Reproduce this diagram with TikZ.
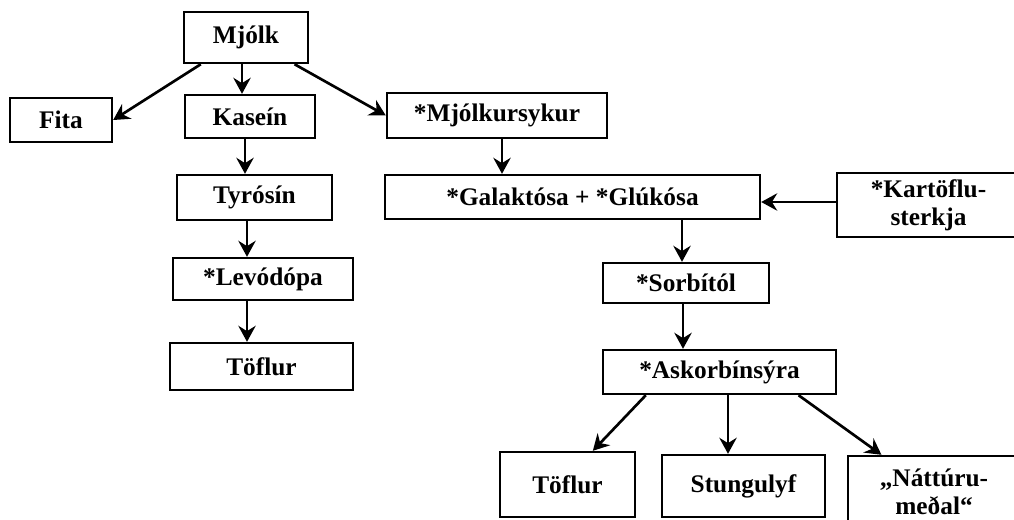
\documentclass[tikz,border=0pt]{standalone}
\usepackage{fontspec}
\setmainfont{Liberation Serif}
\usetikzlibrary{arrows.meta}

\tikzset{
  box/.style={draw, line width=1.8pt, align=center, inner sep=0pt,
    font=\fontsize{19}{21}\selectfont\bfseries},
  arr/.style={line width=2pt, ->},
}

\begin{document}
\begin{tikzpicture}[x=0.75pt, y=-0.75pt,
    >={Stealth[length=12pt, width=13pt, inset=4pt]}]
  \useasboundingbox (0,0) rectangle (1014,519);

  % Boxes
  \node[box, minimum width=93pt, minimum height=38.25pt] (mjolk) at (246,37.5) {Mjólk};
  \node[box, minimum width=76.5pt, minimum height=33pt] (fita) at (61,120) {Fita};
  \node[box, minimum width=97.5pt, minimum height=32.25pt] (kasein) at (250,116.5) {Kaseín};
  \node[box, minimum width=165pt, minimum height=33.75pt] (sykur) at (497,115.5) {*Mjólkursykur};
  \node[box, minimum width=116.25pt, minimum height=33.75pt] (tyrosin) at (254.5,197.5) {Tyrósín};
  \node[box, minimum width=281.25pt, minimum height=33pt] (galak) at (572.5,197) {*Galaktósa + *Glúkósa};
  \node[box, minimum width=137.25pt, minimum height=48pt] (kartof) at (928.5,205) {*Kartöflu-\\sterkja};
  \node[box, minimum width=135pt, minimum height=31.5pt] (levodopa) at (263,279) {*Levódópa};
  \node[box, minimum width=137.25pt, minimum height=35.25pt] (toflurA) at (261.5,366.5) {Töflur};
  \node[box, minimum width=124.5pt, minimum height=30pt] (sorbitol) at (686,283) {*Sorbítól};
  \node[box, minimum width=174.75pt, minimum height=33pt] (askorb) at (719.5,372) {*Askorbínsýra};
  \node[box, minimum width=101.25pt, minimum height=48.75pt] (toflurB) at (567.5,484.5) {Töflur};
  \node[box, minimum width=122.25pt, minimum height=46.5pt] (stungulyf) at (743.5,486) {Stungulyf};
  \node[box, minimum width=129pt, minimum height=54pt] (nattura) at (934,492) {„Náttúru-\\meðal“};

  % Arrows from Mjólk
  \draw[arr] ([xshift=13.5pt]mjolk.south west) -- (fita.east);
  \draw[arr] (242,0 |- mjolk.south) -- (242,0 |- kasein.north);
  \draw[arr] ([xshift=-11pt]mjolk.south east) -- (sykur.west);

  % Left chain
  \draw[arr] (245,0 |- kasein.south) -- (245,0 |- tyrosin.north);
  \draw[arr] (247,0 |- tyrosin.south) -- (247,0 |- levodopa.north);
  \draw[arr] (247,0 |- levodopa.south) -- (247,0 |- toflurA.north);

  % Right chain
  \draw[arr] (502,0 |- sykur.south) -- (502,0 |- galak.north);
  \draw[arr] (kartof.west |- 0,202) -- (galak.east |- 0,202);
  \draw[arr] (682,0 |- galak.south) -- (682,0 |- sorbitol.north);
  \draw[arr] (683,0 |- sorbitol.south) -- (683,0 |- askorb.north);

  % Askorbínsýra uses
  \draw[arr] ([xshift=33pt]askorb.south west) -- ([xshift=19pt]toflurB.north);
  \draw[arr] (728,0 |- askorb.south) -- (728,0 |- stungulyf.north);
  \draw[arr] ([xshift=-29pt]askorb.south east) -- ([xshift=26pt]nattura.north west);

\end{tikzpicture}
\end{document}
